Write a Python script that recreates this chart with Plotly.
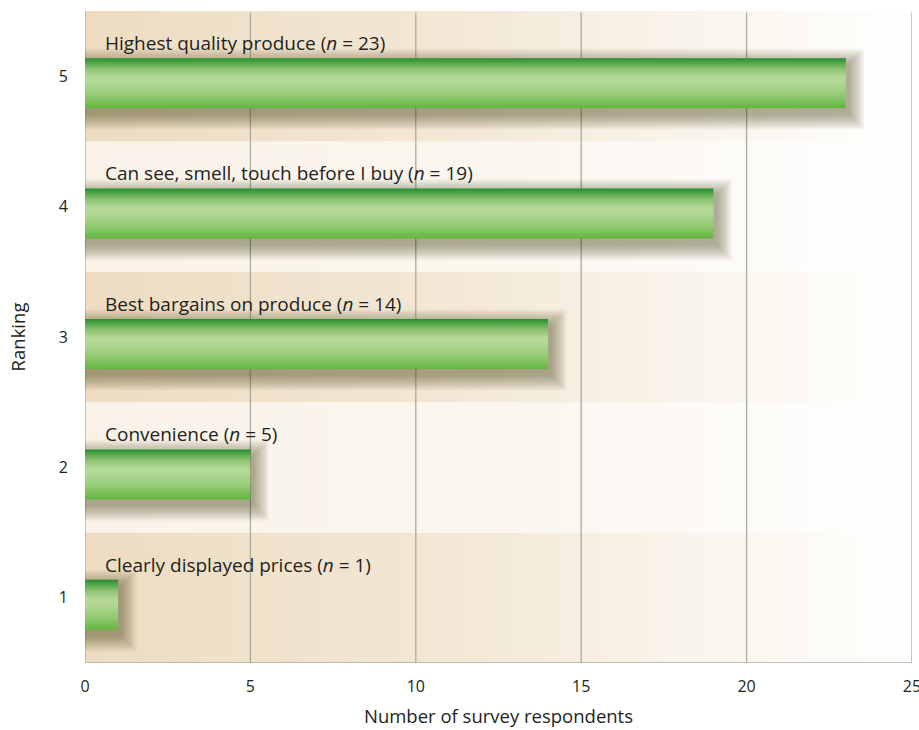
import plotly.graph_objects as go

# ---- data ----
rankings = [1, 2, 3, 4, 5]
respondents = [1, 5, 14, 19, 23]
labels = ["Clearly displayed prices", "Convenience", "Best bargains on produce",
          "Can see, smell, touch before I buy", "Highest quality produce"]
x_ticks = [0, 5, 10, 15, 20, 25]

X_MAX = 25
Y_MIN, Y_MAX = 0.5, 5.5
W, H = 919, 730
ML, MR, MT, MB = 85, 7, 11, 67
px_x = (W - ML - MR) / (X_MAX - 0)
px_y = (H - MT - MB) / (Y_MAX - Y_MIN)

BAR_HALF = 25 / px_y
BAR_OFF = -7 / px_y

fig = go.Figure()

# background bands (horizontal gradient)
for k in rankings:
    dark = (k % 2 == 1)
    cs = ([[0, "#EDDCC1"], [0.45, "#F3E8D6"], [0.8, "#FBF7F0"], [1, "#FFFFFF"]] if dark
          else [[0, "#F9F2E8"], [0.6, "#FBF7F1"], [1, "#FFFFFF"]])
    y0, y1 = k - 0.5, k + 0.5
    fig.add_trace(go.Scatter(
        x=[0, X_MAX, X_MAX, 0, 0], y=[y0, y0, y1, y1, y0],
        mode="lines", line=dict(width=0), fill="toself",
        fillgradient=dict(type="horizontal", colorscale=cs, start=0, stop=X_MAX),
        hoverinfo="skip", showlegend=False))

# grid lines (between background and bars)
GRID = "#A9AE98"
for t in x_ticks:
    fig.add_trace(go.Scatter(x=[t, t], y=[Y_MIN, Y_MAX if t == 0 else Y_MAX - 0.012],
                             mode="lines", line=dict(color=GRID, width=1.3),
                             hoverinfo="skip", showlegend=False))
fig.add_trace(go.Scatter(x=[0, X_MAX], y=[Y_MIN, Y_MIN], mode="lines",
                         line=dict(color=GRID, width=1.5), hoverinfo="skip", showlegend=False))

# soft shadows
for k, v in zip(rankings, respondents):
    yc = k + BAR_OFF
    dx, dy = 3 / px_x, -6 / px_y
    for i in range(22):
        e = (i + 1) * 0.72
        ex, ey = e / px_x, e / px_y
        x0 = 0
        x1 = v + dx + ex
        ya = yc - BAR_HALF + dy - ey
        yb = yc + BAR_HALF + dy + ey
        fig.add_trace(go.Scatter(
            x=[x0, x1, x1, x0, x0], y=[ya, ya, yb, yb, ya],
            mode="lines", line=dict(width=0), fill="toself",
            fillcolor="rgba(50,35,20,0.019)", hoverinfo="skip", showlegend=False))

# bars with vertical gradient
bar_cs = [[0, "#62B53E"], [0.25, "#92CA72"], [0.5, "#B2D795"], [0.62, "#B4D897"],
          [0.78, "#8DC372"], [0.92, "#4EA244"], [1, "#22902F"]]
for k, v in zip(rankings, respondents):
    yc = k + BAR_OFF
    y0, y1 = yc - BAR_HALF, yc + BAR_HALF
    fig.add_trace(go.Scatter(
        x=[0, v, v, 0, 0], y=[y0, y0, y1, y1, y0],
        mode="lines", line=dict(width=0), fill="toself",
        fillgradient=dict(type="vertical", colorscale=bar_cs, start=y0, stop=y1),
        hoverinfo="skip", showlegend=False))

# labels
for k, v, lab in zip(rankings, respondents, labels):
    fig.add_annotation(x=18 / px_x, y=k + 0.5 - 32 / px_y, xref="x", yref="y",
                       text=f"{lab} (<i>n</i> = {v})", showarrow=False,
                       xanchor="left", yanchor="middle",
                       font=dict(family="Open Sans", size=19, color="#231F20"))

fig.update_layout(
    width=W, height=H,
    margin=dict(l=ML, r=MR, t=MT, b=MB, autoexpand=False),
    paper_bgcolor="white", plot_bgcolor="white",
    font=dict(family="Open Sans", color="#231F20", size=16),
    xaxis=dict(range=[0, X_MAX], tickvals=x_ticks, showgrid=False, zeroline=False,
               showline=False, ticks="", ticklabelstandoff=12, automargin=False,
               ticklabeloverflow="allow",
               title=dict(text="Number of survey respondents", standoff=14,
                          font=dict(size=18.5))),
    yaxis=dict(range=[Y_MIN, Y_MAX], tickvals=rankings, showgrid=False, zeroline=False,
               showline=False, ticks="", ticklabelstandoff=16, automargin=False,
               title=dict(text="Ranking", standoff=28, font=dict(size=18.5))),
    showlegend=False,
)

fig.write_html("out.html")
